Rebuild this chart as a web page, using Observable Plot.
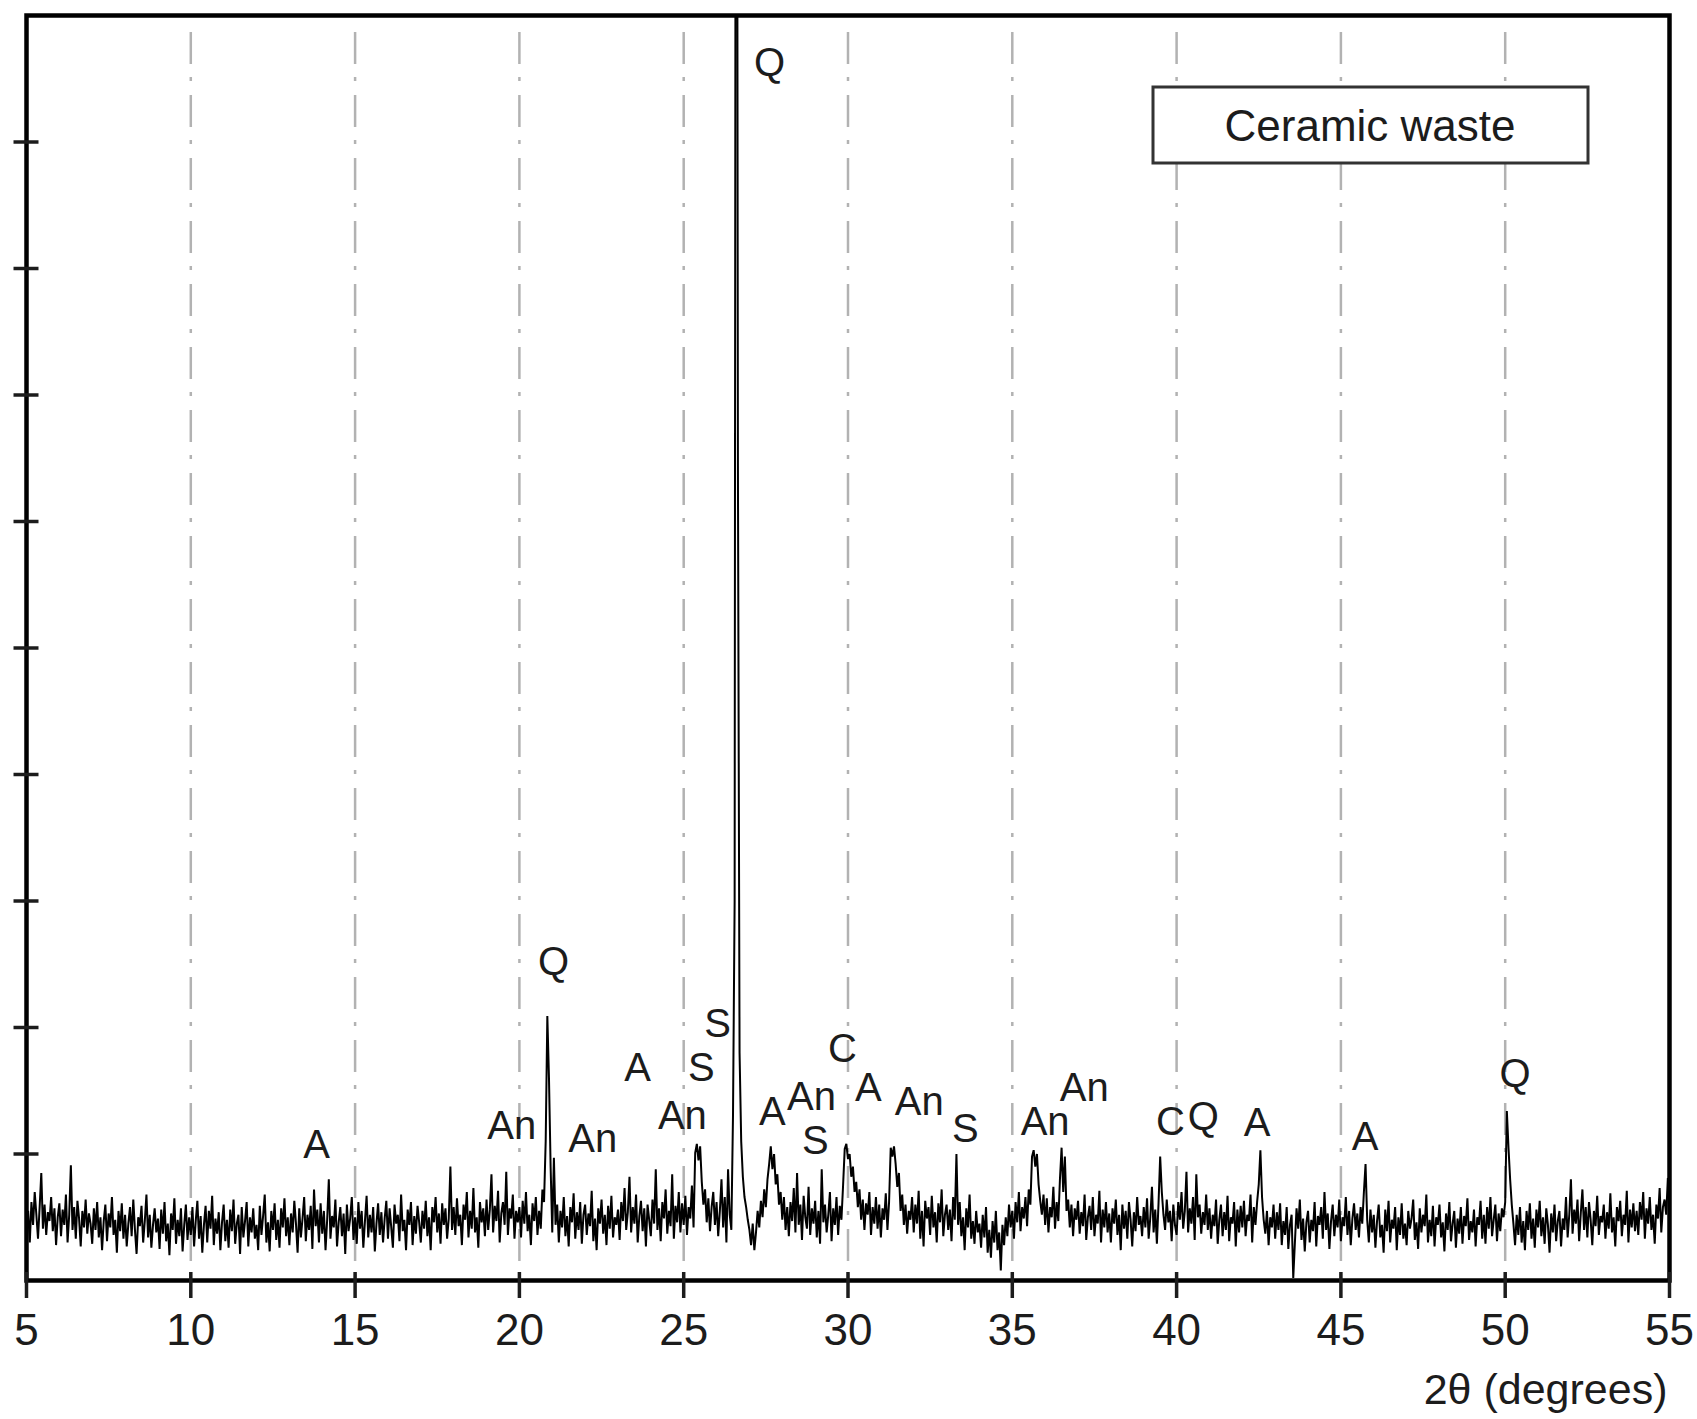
<!DOCTYPE html>
<html>
<head>
<meta charset="utf-8">
<script src="https://cdn.jsdelivr.net/npm/d3@7"></script>
<script src="https://cdn.jsdelivr.net/npm/@observablehq/plot@0.6"></script>
<style>
  html, body { margin: 0; padding: 0; background: #fff; }
  #chart svg { display: block; }
</style>
</head>
<body>
<div id="chart"></div>
<script>
// ---- Data ----
const startDeg = 5;      // first 2θ value of the scan
const stepDeg = 0.05;    // scan step (degrees)
// Intensity, arbitrary units (100 = one y-tick interval), one row per degree
const intensity = [
  38,55,30,62,44,70,52,33,58,85,41,60,36,54,47,66,39,57,28,50,      // 5
  61,35,56,44,68,30,52,91,40,58,33,63,49,27,55,42,64,37,53,45,      // 6
  29,57,40,62,34,50,24,47,60,31,53,42,66,36,48,22,55,39,61,33,      // 7
  52,27,45,58,35,64,40,21,50,43,59,30,47,68,34,52,26,44,57,38,      // 8
  49,25,56,37,62,31,45,20,53,40,65,29,48,35,57,23,44,60,32,50,      // 9
  36,58,27,47,63,33,51,22,44,59,30,55,41,67,28,49,37,54,24,46,      // 10
  60,31,48,26,56,39,64,29,45,52,21,58,34,47,62,27,50,38,57,33,      // 11
  44,24,59,36,51,68,30,46,23,55,40,61,32,48,26,57,42,65,35,50,      // 12
  28,53,38,63,45,22,57,34,49,66,31,52,40,59,25,72,43,56,30,61,      // 13
  37,55,24,48,80,33,51,42,64,27,46,58,35,53,21,60,39,49,66,32,      // 14
  50,29,62,41,55,26,47,67,34,52,38,58,23,45,61,36,54,30,49,63,      // 15
  33,57,42,26,60,45,52,31,68,39,48,24,56,44,62,28,51,37,59,46,      // 16
  30,55,41,63,35,50,24,58,46,66,38,53,29,61,44,57,33,49,90,40,      // 17
  58,36,65,43,52,28,60,48,70,34,55,41,73,38,50,26,62,46,57,35,      // 18
  64,40,56,84,38,59,47,71,30,53,62,44,86,36,57,49,68,33,55,46,      // 19
  58,34,63,45,70,39,52,28,61,47,66,36,55,41,72,62,110,209,160,90,   // 20
  38,97,44,60,30,55,42,66,35,51,27,58,46,69,33,54,40,62,29,52,      // 21
  60,36,53,43,71,31,49,24,57,45,64,37,52,28,59,41,67,34,50,44,      // 22
  56,32,62,47,73,40,54,82,38,58,45,68,30,51,63,39,57,27,60,48,      // 23
  35,64,45,88,40,57,31,62,49,72,37,55,43,84,33,59,46,70,38,61,      // 24
  44,67,36,58,49,75,42,101,108,95,106,78,60,72,46,65,39,58,70,44,   // 25
  62,35,55,80,42,66,30,88,52,40,130,300,1800,644,180,110,82,66,58,48, // 26
  40,28,45,24,38,55,42,63,50,72,58,80,92,106,88,100,76,84,60,70,    // 27
  48,66,40,58,35,62,47,73,38,85,44,60,32,67,50,41,74,36,57,45,      // 28
  63,34,55,29,88,46,60,38,52,70,31,57,44,66,36,59,48,75,104,108,    // 29
  96,100,82,90,70,78,58,72,48,64,40,61,52,70,36,58,45,66,41,60,     // 30
  34,57,48,69,40,62,105,98,106,92,74,85,55,68,44,60,37,55,48,66,    // 31
  38,60,45,71,33,55,27,63,49,58,36,67,42,54,30,61,46,72,35,52,      // 32
  60,40,56,31,66,48,100,44,62,35,50,24,57,42,68,33,47,29,55,38,     // 33
  45,26,52,34,58,22,40,18,47,30,55,24,38,8,44,28,50,35,60,42,       // 34
  55,33,62,46,70,39,58,49,66,43,72,60,98,103,90,100,76,63,52,68,    // 35
  44,65,38,58,50,74,41,62,47,80,105,70,98,55,64,42,60,35,57,48,     // 36
  63,37,54,43,68,32,50,59,40,66,35,52,45,71,30,56,42,62,38,53,      // 37
  30,57,45,64,36,52,24,60,41,55,33,62,48,27,54,39,66,44,51,35,      // 38
  58,42,65,33,50,74,38,56,29,61,98,70,52,40,64,46,55,31,60,44,      // 39
  36,62,48,70,41,55,86,38,57,45,66,32,84,50,60,37,54,44,68,40,      // 40
  57,33,52,43,64,29,48,60,35,54,40,67,31,50,45,62,27,56,38,59,      // 41
  42,63,35,52,47,68,30,58,44,62,76,103,66,48,37,55,28,50,42,60,     // 42
  33,54,40,61,28,47,36,58,25,44,52,2,30,57,41,64,32,49,23,46,       // 43
  55,30,48,39,62,27,51,44,58,33,70,40,53,25,47,60,35,52,42,64,      // 44
  31,50,43,66,36,55,28,49,61,40,53,34,58,45,70,92,48,30,56,38,      // 45
  52,26,47,60,34,44,22,56,39,63,30,48,41,58,24,50,36,61,33,45,      // 46
  28,55,41,49,64,32,46,25,57,38,52,43,68,30,48,35,59,27,50,44,      // 47
  60,34,46,23,53,40,62,31,45,55,26,49,37,58,29,51,43,65,32,47,      // 48
  38,56,27,50,44,63,33,52,29,58,41,66,35,48,60,31,53,39,57,50,      // 49
  62,134,105,80,60,45,28,52,36,58,30,47,24,55,40,61,33,49,26,56,    // 50
  42,63,35,50,29,57,44,22,53,38,60,31,47,55,27,49,40,66,34,52,      // 51
  80,37,56,45,64,31,53,72,40,58,34,62,48,28,55,43,67,36,51,46,      // 52
  60,33,54,41,69,38,50,27,58,47,63,35,52,44,71,30,56,42,61,39,      // 53
  55,36,62,48,70,33,57,45,66,40,52,29,60,49,73,38,58,64,52,81,      // 54
  75                                                                // 55
];

const xTicks = [5, 10, 15, 20, 25, 30, 35, 40, 45, 50, 55];
const gridX = [10, 15, 20, 25, 30, 35, 40, 45, 50];
const yTicks = [100, 200, 300, 400, 500, 600, 700, 800, 900];

const peakText = ["A","An","Q","An","A","S","An","S","Q","A","An","S","C","A","An","S","An","An","C","Q","A","A","Q"];
const peakX    = [13.83,19.77,21.04,22.23,23.60,25.54,24.96,26.03,27.61,27.70,28.89,29.01,29.83,30.62,32.17,33.57,36.00,37.19,39.81,40.81,42.45,45.74,50.30];
const peakY    = [107,122,252,112,168,168,130,203,962,133,145,110,183,152,141,120,125,152,125,129,124,113,163];

const sampleName = "Ceramic waste";
const xTitle = "2θ (degrees)";

// ---- Build tables ----
const scan = intensity.map((v, i) => ({deg: startDeg + i * stepDeg, counts: v}));
const labels = peakText.map((t, i) => ({t, x: peakX[i], y: peakY[i]}));

const font = "'Liberation Sans', Arial, Helvetica, sans-serif";
const ink = "#1c1c1c";

const W = 1697, H = 1419;
const mL = 26, mR = 28, mT = 15, mB = 139;

const chart = Plot.plot({
  width: W,
  height: H,
  marginLeft: mL,
  marginRight: mR,
  marginTop: mT,
  marginBottom: mB,
  style: {fontFamily: font, color: ink, background: "#fff", overflow: "visible"},
  x: {domain: [5, 55], label: null},
  y: {domain: [0, 1000], label: null},
  marks: [
    Plot.ruleX(gridX, {x: d => d, stroke: "#b2b2b2", strokeWidth: 2.5, strokeDasharray: "32,13,4,14", insetTop: 17}),
    Plot.line(scan, {x: "deg", y: "counts", stroke: "#000", strokeWidth: 2, strokeLinejoin: "miter", strokeMiterlimit: 2, clip: true}),
    Plot.text(labels, {x: "x", y: "y", text: "t", fontSize: 40, fill: ink, fontFamily: font}),
    Plot.frame({stroke: "#000", strokeWidth: 4.5}),
    Plot.axisX({ticks: xTicks, tickSize: 26, dy: -8, tickFormat: () => "", strokeWidth: 3.5, label: null}),
    Plot.axisX({ticks: xTicks, tickSize: 0, tickPadding: 33, fontSize: 44, fill: ink, label: null}),
    Plot.axisY({ticks: yTicks, tickSize: 25, dx: 12.5, tickFormat: () => "", strokeWidth: 3.5, label: null}),
    Plot.text([xTitle], {text: d => d, frameAnchor: "bottom-right", textAnchor: "end", dx: -2, dy: 123, fontSize: 43, fill: ink})
  ]
});

document.getElementById("chart").appendChild(chart);

// Sample-name box (annotation inside the plot area)
const svg = d3.select(chart);
const g = svg.append("g");
g.append("rect")
  .attr("x", 1153).attr("y", 87).attr("width", 435).attr("height", 76)
  .attr("fill", "#fff").attr("stroke", "#333").attr("stroke-width", 3);
g.append("text")
  .attr("x", 1370).attr("y", 125)
  .attr("text-anchor", "middle").attr("dominant-baseline", "central")
  .attr("font-family", font).attr("font-size", 44).attr("fill", ink)
  .text(sampleName);
</script>
</body>
</html>
